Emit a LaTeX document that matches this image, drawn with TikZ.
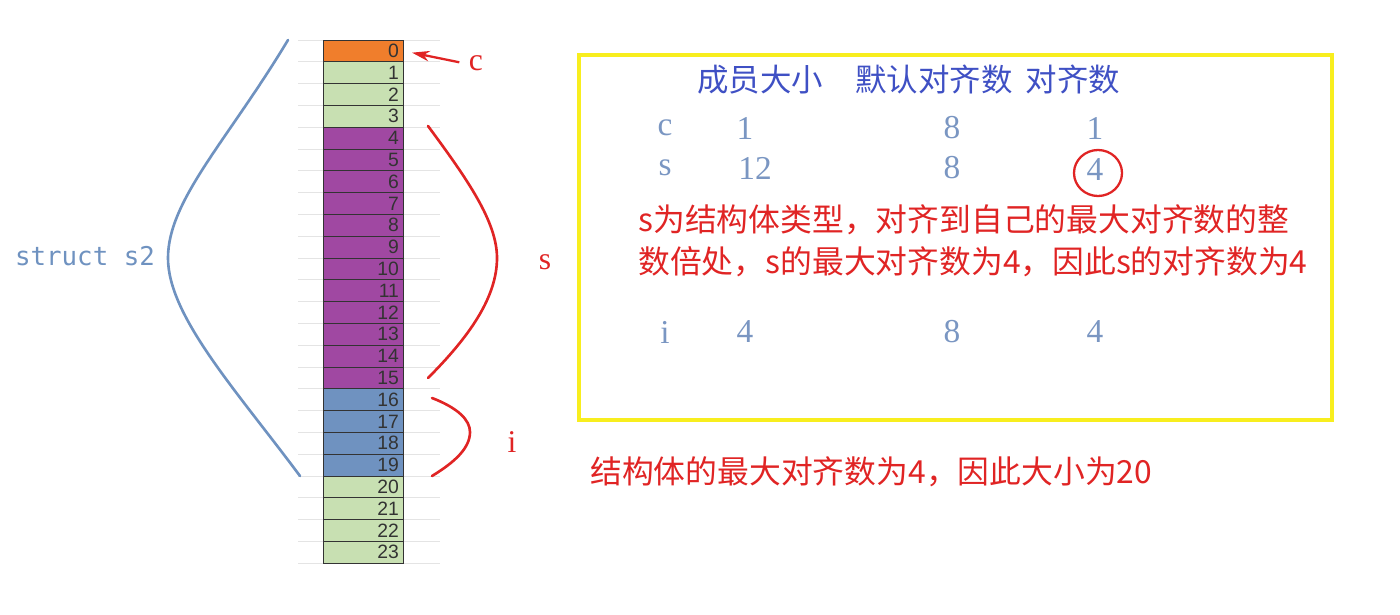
\documentclass[tikz,border=0pt]{standalone}
\usepackage{fontspec}
\setmainfont{Liberation Serif}
\setsansfont{Liberation Sans}
\setmonofont{DejaVu Sans Mono}
\newfontfamily\cjk{Noto Sans CJK SC}
\usepackage{tikz}
\usetikzlibrary{arrows.meta,calc}
\definecolor{cOrange}{HTML}{F07E2C}
\definecolor{cGreen}{HTML}{C8E0B2}
\definecolor{cPurple}{HTML}{A048A2}
\definecolor{cBlue}{HTML}{6F92C0}
\definecolor{cGrid}{HTML}{E4E4E4}
\definecolor{cHead}{HTML}{3F50C4}
\definecolor{cRow}{HTML}{7A96C2}
\definecolor{cRed}{HTML}{E02424}
\definecolor{cYellow}{HTML}{F8EE1E}
\tikzset{
  cellbox/.style={draw=black!80, line width=0.5pt, minimum height=0.436cm,
    text width=1.44cm, inner sep=0.08cm, align=right, font=\sffamily\fontsize{11}{11}\selectfont,
    text=black!80},
  headtext/.style={text=cHead, font=\cjk\fontsize{17.9}{20}\selectfont},
  rowtext/.style={text=cRow, font=\fontsize{19}{22}\selectfont},
  redtext/.style={text=cRed, font=\cjk\fontsize{18.1}{20}\selectfont, anchor=west, inner sep=0pt},
  bracket/.style={line width=1.5pt, line cap=round}
}
\begin{document}
\begin{tikzpicture}[x=0.02cm,y=-0.02cm]
\useasboundingbox (0,0) rectangle (1400,615);
% grid lines of the sheet
\foreach \k in {0,...,24}
  \draw[cGrid, line width=0.5pt] (298,40+21.8*\k) -- (440,40+21.8*\k);
% memory cells
\node[cellbox, fill=cOrange] (cell0) at (363,50.9) {0};
\foreach \i in {1,...,3}
  \node[cellbox, fill=cGreen] (cell\i) at (363,50.9+21.8*\i) {\i};
\foreach \i in {4,...,15}
  \node[cellbox, fill=cPurple] (cell\i) at (363,50.9+21.8*\i) {\i};
\foreach \i in {16,...,19}
  \node[cellbox, fill=cBlue] (cell\i) at (363,50.9+21.8*\i) {\i};
\foreach \i in {20,...,23}
  \node[cellbox, fill=cGreen] (cell\i) at (363,50.9+21.8*\i) {\i};

% struct s2
\draw[bracket, cBlue] (288,40) .. controls (228,140) and (168,200) .. (168,258)
  .. controls (168,316) and (236,390) .. (300,476);
\node[text=cBlue, font=\ttfamily\fontsize{14.7}{16}\selectfont] (s2) at (85,256) {struct s2};

% c
\node[text=cRed, font=\fontsize{18}{20}\selectfont] (clabel) at (476,63) {c};
\draw[cRed, line width=1.3pt, -{Stealth[length=10pt,width=6pt]}, shorten <=2pt, shorten >=5pt]
  (clabel.west) -- (cell0.east);

% s
\draw[bracket, cRed] (428,126) .. controls (468,180) and (497,222) .. (497,258)
  .. controls (497,298) and (468,338) .. (428,378);
\node[text=cRed, font=\fontsize{18}{20}\selectfont] (slabel) at (545,262) {s};

% i
\draw[bracket, cRed] (432,398) .. controls (458,408) and (470,420) .. (470,432)
  .. controls (470,448) and (455,462) .. (432,476);
\node[text=cRed, font=\fontsize{18}{20}\selectfont] (ilabel) at (512,442) {i};

% table
\draw[cYellow, line width=2pt] (579,55) rectangle (1332,420);
\node[headtext] (hsize) at (760,80) {成员大小};
\node[headtext] (hdef) at (934,80) {默认对齐数};
\node[headtext] (halign) at (1073,80) {对齐数};

\node[rowtext] (cname) at (665,128) {c};
\node[rowtext] (csize) at (745,128) {1};
\node[rowtext] (cdef) at (952,128) {8};
\node[rowtext] (calign) at (1095,128) {1};

\node[rowtext] (sname) at (665,168) {s};
\node[rowtext] (ssize) at (755,168) {12};
\node[rowtext] (sdef) at (952,168) {8};
\node[rowtext] (salign) at (1095,170) {4};
\draw[cRed, line width=1.3pt] (1098,173) ellipse [x radius=24, y radius=23];

\node[redtext] (note1) at (638,220) {s为结构体类型，对齐到自己的最大对齐数的整};
\node[redtext] (note2) at (638,262) {数倍处，s的最大对齐数为4，因此s的对齐数为4};

\node[rowtext] (iname) at (665,332) {i};
\node[rowtext] (isize) at (745,332) {4};
\node[rowtext] (idef) at (952,332) {8};
\node[rowtext] (ialign) at (1095,332) {4};

\node[redtext] (total) at (590,472) {结构体的最大对齐数为4，因此大小为20};
\end{tikzpicture}
\end{document}
